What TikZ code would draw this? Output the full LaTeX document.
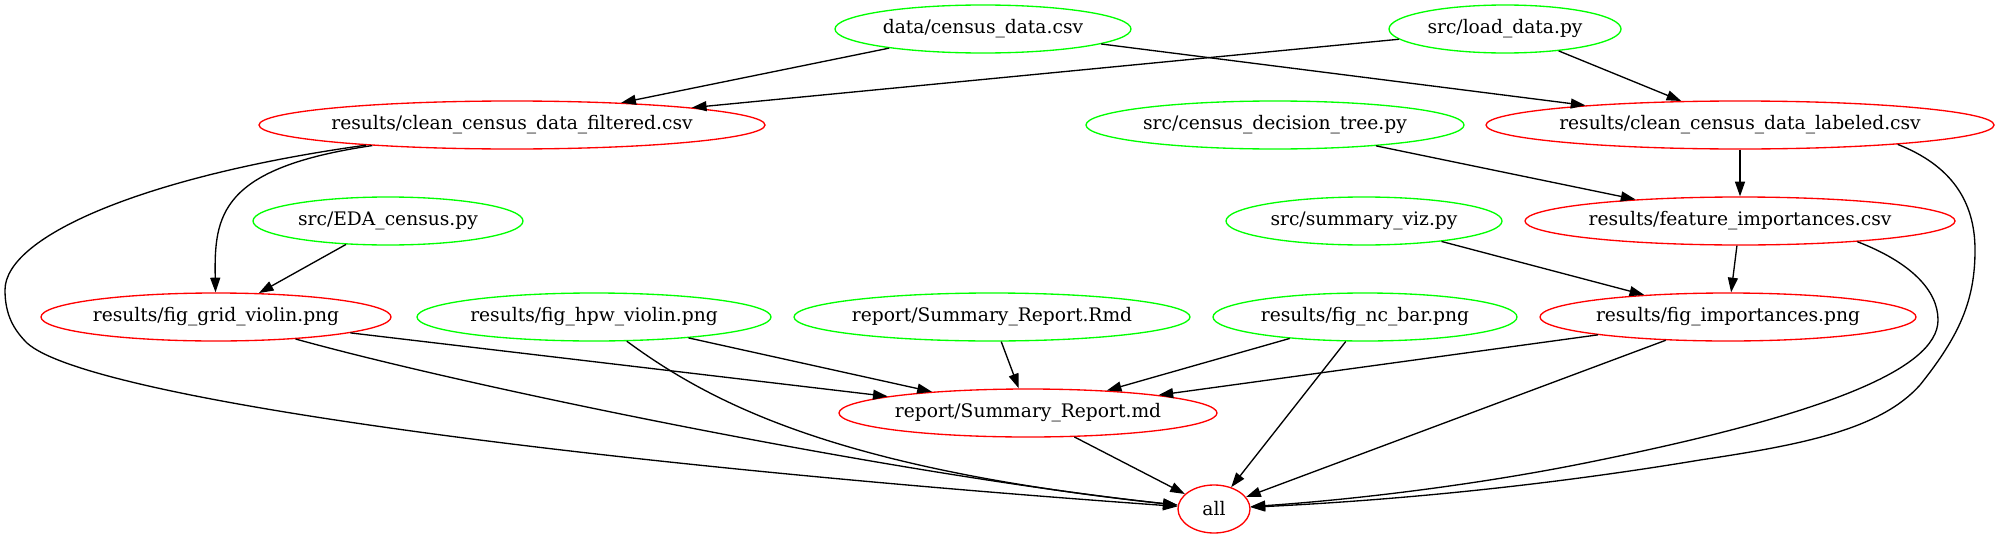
\documentclass[tikz,border=0pt]{standalone}
\usepackage{fontspec}
\setmainfont{DejaVu Serif}
\usetikzlibrary{shapes.geometric,arrows.meta}

\definecolor{srcgreen}{RGB}{0,255,0}
\definecolor{outred}{RGB}{255,0,0}
\newcommand{\fname}[1]{\makebox[0pt]{#1}}

\begin{document}
\begin{tikzpicture}[x=0.75pt,y=-0.75pt,line width=1pt,>={Triangle[length=11pt,width=7.5pt]}]
      \useasboundingbox (0,0) rectangle (2001,539);

      \begin{scope}[every node/.style={ellipse,draw=srcgreen,inner sep=0pt,minimum height=36pt,font=\fontsize{14}{17}\selectfont}]
        \node (1)  [minimum width=222pt]   at (983,29)   {\fname{data/census\_data.csv}};
        \node (2)  [minimum width=174pt]   at (1505,29)  {\fname{src/load\_data.py}};
        \node (4)  [minimum width=283.5pt] at (1275,125) {\fname{src/census\_decision\_tree.py}};
        \node (6)  [minimum width=202.5pt] at (388,221)  {\fname{src/EDA\_census.py}};
        \node (7)  [minimum width=207pt]   at (1364,221) {\fname{src/summary\_viz.py}};
        \node (10) [minimum width=265.5pt] at (594,317)  {\fname{results/fig\_hpw\_violin.png}};
        \node (11) [minimum width=297pt]   at (992,317)  {\fname{report/Summary\_Report.Rmd}};
        \node (12) [minimum width=228pt]   at (1365,317) {\fname{results/fig\_nc\_bar.png}};
      \end{scope}

      \begin{scope}[every node/.style={ellipse,draw=outred,inner sep=0pt,minimum height=36pt,font=\fontsize{14}{17}\selectfont}]
        \node (3)  [minimum width=379.5pt] at (512,125)  {\fname{results/clean\_census\_data\_filtered.csv}};
        \node (5)  [minimum width=381pt]   at (1740,125) {\fname{results/clean\_census\_data\_labeled.csv}};
        \node (8)  [minimum width=322.5pt] at (1740,221) {\fname{results/feature\_importances.csv}};
        \node (9)  [minimum width=262.5pt] at (216,317)  {\fname{results/fig\_grid\_violin.png}};
        \node (13) [minimum width=282pt]   at (1728,317) {\fname{results/fig\_importances.png}};
        \node (14) [minimum width=283.5pt] at (1028,413) {\fname{report/Summary\_Report.md}};
        \node (15) [minimum width=54pt]    at (1214,509) {\fname{all}};
      \end{scope}

      \begin{scope}[every edge/.style={draw,->}]
        \path (1)  edge (3);
        \path (1)  edge (5);
        \path (2)  edge (3);
        \path (2)  edge (5);
        \path (4)  edge (8);
        \path (5)  edge (8);
        \path (6)  edge (9);
        \path (7)  edge (13);
        \path (8)  edge (13);
        \path (9)  edge (14);
        \path (10) edge (14);
        \path (11) edge (14);
        \path (12) edge (14);
        \path (12) edge (15);
        \path (13) edge (14);
        \path (13) edge (15);
        \path (14) edge (15);

        % bent ones
        \draw[->] (3) .. controls (220,168) and (214,215) .. (9);
        \draw[->] (3) .. controls (150,175) and (5,235) .. (5,290)
                      .. controls (5,315) and (14,330) .. (27,343)
                      .. controls (90,400) and (600,465) .. (15);
        \draw[->] (9) .. controls (480,390) and (900,475) .. (15);
        \draw[->] (10) .. controls (720,410) and (850,470) .. (15);
        \draw[->] (5.-7) .. controls (1950,165) and (1975,200) .. (1975,250)
                      .. controls (1975,300) and (1960,335) .. (1920,385)
                      .. controls (1880,430) and (1800,445) .. (1700,460)
                      .. controls (1550,485) and (1400,500) .. (15);
        \draw[->] (8.-10) .. controls (1910,262) and (1938,290) .. (1938,320)
                      .. controls (1938,370) and (1820,415) .. (1600,460)
                      .. controls (1480,485) and (1350,500) .. (15);
      \end{scope}

    \end{tikzpicture}
\end{document}
